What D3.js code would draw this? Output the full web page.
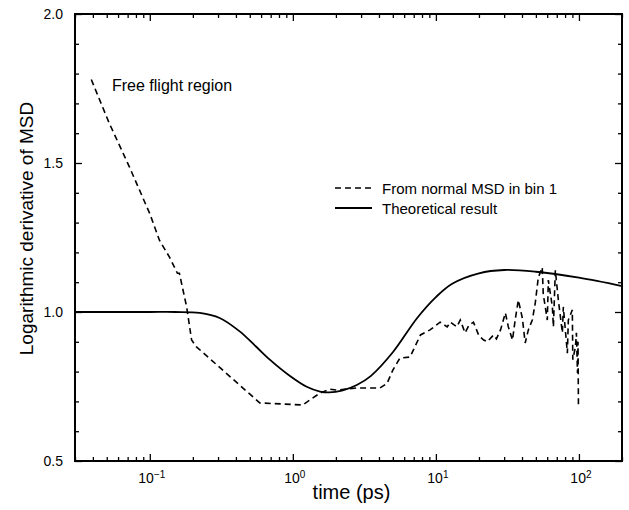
<!DOCTYPE html>
<html>
<head>
<meta charset="utf-8">
<script src="https://cdn.jsdelivr.net/npm/d3@7"></script>
<style>
  body { margin: 0; background: #fff; }
  text { font-family: "Liberation Sans", Arial, sans-serif; fill: #000; }
</style>
</head>
<body>
<script>
// theoretical result
const theoryT = [0.03, 0.1, 0.15, 0.223, 0.308, 0.425, 0.55, 0.69, 0.95, 1.25, 1.55, 1.8, 2.2, 2.8, 3.5, 5, 7.4, 10, 13, 20, 30, 50, 100, 200]
const theoryV = [1.0, 1.0, 1.0, 0.997, 0.98, 0.935, 0.885, 0.84, 0.786, 0.749, 0.733, 0.73, 0.736, 0.755, 0.785, 0.865, 0.98, 1.05, 1.095, 1.13, 1.141, 1.135, 1.115, 1.087]

// from normal MSD in bin 1
const msdT = [0.039, 0.052, 0.072, 0.1, 0.117, 0.137, 0.156, 0.161, 0.181, 0.196, 0.212, 0.587, 1.17, 1.55, 1.82, 2.03, 2.8, 4.07, 4.55, 5.0, 5.6, 6.6, 7.8, 9.1, 10.7, 12, 12.6,
  14, 14.8, 16, 17, 18.3, 20, 21.6, 22.9, 25.3, 26.5, 28.3, 30.6, 32.1, 34.3, 36.0, 37.7, 40.2, 42.1, 44.3, 47.2, 49.5, 52.0, 55.4, 56.3, 60.1, 61.1,
  65.2, 66.3, 68.4, 71.8, 76.6, 77.8, 83.0, 84.3, 89.9, 90.6, 94.5, 96, 97.7, 98.5, 99.2]
const msdV = [1.78, 1.634, 1.487, 1.33, 1.24, 1.185, 1.13, 1.13, 1.017, 0.906, 0.883, 0.695, 0.688, 0.728, 0.741, 0.738, 0.745, 0.745, 0.76, 0.805, 0.845, 0.849, 0.923, 0.94, 0.966, 0.95, 0.966,
  0.95, 0.973, 0.93, 0.955, 0.966, 0.92, 0.906, 0.9, 0.923, 0.91, 0.94, 0.997, 0.95, 0.906, 0.98, 1.04, 0.98, 0.896, 0.94, 0.973, 1.03, 1.116, 1.15, 1.06, 0.973, 1.107,
  1.017, 0.95, 1.14, 1.04, 0.93, 1.017, 0.862, 0.973, 1.007, 0.84, 0.883, 0.93, 0.795, 0.9, 0.69]

const yTicks = [0.5, 1.0, 1.5, 2.0]
const yMinor = [0.6, 0.7, 0.8, 0.9, 1.1, 1.2, 1.3, 1.4, 1.6, 1.7, 1.8, 1.9]
const xTicks = [0.1, 1, 10, 100]
const xTickExp = ['-1', '0', '1', '2']
const xMinor = []
;[0.01, 0.1, 1, 10, 100].forEach(d => [2, 3, 4, 5, 6, 7, 8, 9].forEach(k => {
    const v = d * k
    if (v >= 0.03 && v <= 200) xMinor.push(v)
}))

const margin = { top: 14, right: 7, bottom: 49, left: 75 }
const width = 629 - margin.left - margin.right
const height = 510 - margin.top - margin.bottom

const svg = d3.select('body').append('svg')
    .attr('width', 629)
    .attr('height', 510)
    .append('g')
        .attr('transform', `translate(${margin.left}, ${margin.top})`)

const xScale = d3.scaleLog().domain([0.03, 200]).range([0, width])
const yScale = d3.scaleLinear().domain([0.5, 2.0]).range([height, 0])

// ticks on all four sides, pointing inward
function tickAxis(axisFn, scale, values, size, transform) {
    const g = svg.append('g')
        .attr('transform', transform)
        .call(axisFn(scale).tickValues(values).tickSize(size).tickFormat(''))
    g.select('.domain').remove()
    g.selectAll('line').attr('stroke', '#000').attr('stroke-width', 1.3)
    return g
}
tickAxis(d3.axisBottom, xScale, xTicks, -7, `translate(0, ${height})`)
tickAxis(d3.axisBottom, xScale, xMinor, -4, `translate(0, ${height})`)
tickAxis(d3.axisTop, xScale, xTicks, -7, 'translate(0, 0)')
tickAxis(d3.axisTop, xScale, xMinor, -4, 'translate(0, 0)')
tickAxis(d3.axisLeft, yScale, yTicks, -7, 'translate(0, 0)')
tickAxis(d3.axisLeft, yScale, yMinor, -4, 'translate(0, 0)')
tickAxis(d3.axisRight, yScale, yTicks, -7, `translate(${width}, 0)`)
tickAxis(d3.axisRight, yScale, yMinor, -4, `translate(${width}, 0)`)

svg.append('rect')
    .attr('width', width)
    .attr('height', height)
    .style('fill', 'none')
    .style('stroke', '#000')
    .style('stroke-width', 2)

// tick labels
svg.selectAll('.ylab')
    .data(yTicks)
    .enter().append('text')
    .attr('class', 'ylab')
    .attr('x', -12)
    .attr('y', d => yScale(d))
    .attr('dy', '0.35em')
    .style('text-anchor', 'end')
    .style('font-size', '14px')
    .text(d => d.toFixed(1))

const xlab = svg.selectAll('.xlab')
    .data(xTicks)
    .enter().append('text')
    .attr('class', 'xlab')
    .attr('x', d => xScale(d) + 2)
    .attr('y', height + 22)
    .style('text-anchor', 'middle')
    .style('font-size', '14px')
xlab.append('tspan').text('10')
xlab.append('tspan')
    .attr('dy', '-0.55em')
    .style('font-size', '10px')
    .text((d, i) => xTickExp[i].replace('-', '\u2212'))

// axis titles
svg.append('text')
    .attr('x', width / 2 + 3)
    .attr('y', height + 38)
    .style('text-anchor', 'middle')
    .style('font-size', '20px')
    .text('time (ps)')

svg.append('text')
    .attr('transform', `translate(-42, ${height / 2 - 9}) rotate(-90)`)
    .style('text-anchor', 'middle')
    .style('font-size', '19px')
    .text('Logarithmic derivative of MSD')

// curves
const line = d3.line()
    .x(d => xScale(d[0]))
    .y(d => yScale(d[1]))

svg.append('path')
    .datum(theoryT.map((t, i) => [t, theoryV[i]]))
    .attr('d', line.curve(d3.curveCatmullRom.alpha(0.5)))
    .style('fill', 'none')
    .style('stroke', '#000')
    .style('stroke-width', 1.8)

svg.append('path')
    .datum(msdT.map((t, i) => [t, msdV[i]]))
    .attr('d', line.curve(d3.curveLinear))
    .style('fill', 'none')
    .style('stroke', '#000')
    .style('stroke-width', 1.6)
    .style('stroke-dasharray', '6,4')

// annotation
svg.append('text')
    .attr('x', 37)
    .attr('y', 77)
    .style('font-size', '16px')
    .text('Free flight region')

// legend
const legend = svg.append('g').attr('transform', 'translate(260, 174)')
legend.append('line')
    .attr('x1', 0).attr('x2', 37).attr('y1', 0).attr('y2', 0)
    .style('stroke', '#000').style('stroke-width', 1.6)
    .style('stroke-dasharray', '6,4')
legend.append('line')
    .attr('x1', 0).attr('x2', 37).attr('y1', 20).attr('y2', 20)
    .style('stroke', '#000').style('stroke-width', 1.8)
legend.append('text')
    .attr('x', 47).attr('y', 5.5)
    .style('font-size', '15px')
    .text('From normal MSD in bin 1')
legend.append('text')
    .attr('x', 47).attr('y', 25.5)
    .style('font-size', '15px')
    .text('Theoretical result')
</script>
</body>
</html>
